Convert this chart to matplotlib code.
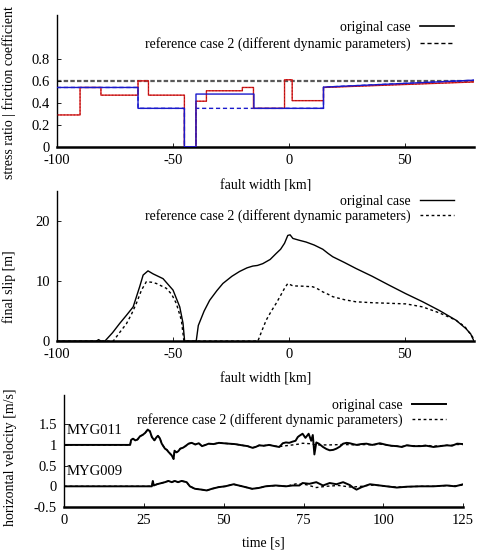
import matplotlib
matplotlib.use("Agg")
import matplotlib.pyplot as plt
import numpy as np

plt.rcParams['font.family'] = ['Liberation Serif', 'DejaVu Serif']
plt.rcParams['font.size'] = 10

# ---------------- Panel 1 data: stress ratio / friction coefficient ----------------
blue_orig_edges = [-100, -65, -45, -40, -15, 15]
blue_orig_levels = [0.54, 0.35, 0.0, 0.48, 0.35, 0.543]
blue_ref_edges = [-100, -65, -45, -40, -15, 15]
blue_ref_levels = [0.54, 0.35, 0.0, 0.35, 0.35, 0.543]
blue_tail_end = 0.606
red_edges = [-100, -90, -81, -65, -60.5, -45, -40, -35.5, -20, -15.2, -1.8, 1.5, 15]
red_levels = [0.29, 0.54, 0.47, 0.60, 0.47, 0.0, 0.415, 0.51, 0.54, 0.35, 0.61, 0.42, 0.54]
red_tail_end = 0.59
static_level = 0.6
x_end = 80

# ---------------- Panel 2 data: final slip ----------------
slip_orig_x = [-100, -83, -82, -81, -79.3, -76, -72.9, -70, -67.1, -64.3, -62.8, -60.7, -58.5, -54.2,
               -49.9, -47, -45.6, -44.9, -40, -39.9, -39, -36.5, -34.1, -31, -28.4, -24.5, -21.2, -18,
               -15.5, -13.5, -11.2, -8, -5.4, -3.5, -1.8, -0.4, 0.6, 1.8, 4.5, 7.5, 11, 14.7, 17, 19,
               24, 29, 36, 43.4, 50.5, 57.8, 65, 72.1, 76.4, 78.5, 79.3, 80]
slip_orig_y = [0, 0, 0.25, 0, 0, 1.4, 2.95, 4.3, 5.7, 9.05, 11.0, 11.7, 11.2, 10.4,
               8.5, 5.7, 3.0, 0, 0, 0, 2.6, 5.0, 6.8, 8.4, 9.6, 10.8, 11.6, 12.2,
               12.5, 12.6, 12.9, 13.6, 14.6, 15.3, 16.3, 17.6, 17.7, 17.1, 16.8, 16.5, 16.0, 15.3, 14.6, 14.05,
               13.1, 12.1, 10.8, 9.3, 7.9, 6.55, 5.1, 3.5, 2.1, 1.2, 0.5, 0]
slip_ref_x = [-100, -75.7, -73, -70, -67.8, -65.7, -63.5, -61.4, -59, -57.1, -52.8, -50.5, -48.5, -46.3,
              -45.2, -13.3, -11.5, -9.7, -7.5, -5.4, -3.5, -1.8, -0.4, 1.8, 6, 10.4, 12.5, 14.7, 17, 19,
              24, 29, 36, 43.4, 50.6, 57.8, 65, 72.1, 76, 79.3, 80]
slip_ref_y = [0, 0, 1.4, 2.9, 4.5, 6.3, 8.5, 9.9, 9.8, 9.6, 8.8, 7.8, 6.3, 3.5,
              0, 0, 1.8, 3.5, 5.0, 6.3, 7.6, 8.8, 9.6, 9.2, 9.15, 9.05, 8.7, 8.2, 7.8, 7.4,
              6.9, 6.55, 6.4, 6.3, 6.2, 5.7, 4.7, 3.5, 2.4, 0.7, 0]

# ---------------- Panel 3 data: horizontal velocity ----------------
myg011_t = [0, 20.7, 21.0, 21.6, 22.3, 23.0, 23.8, 24.6, 25.4, 26.2, 26.9, 27.5, 28.3, 28.9, 29.4, 30.0,
            30.6, 31.6, 32.2, 32.7, 33.2, 33.7, 34.3, 34.6, 35.2, 35.8, 36.4, 37.2, 38.0, 39.0, 40.0, 41.1,
            42.2, 43.2, 44.3, 45.3, 46.8, 48.5, 50.0, 51.6, 53.5, 55.8, 57.5, 59.0, 60.0, 61.1, 62.5, 64.2,
            66.0, 67.4, 68.5, 69.5, 70.5, 71.6, 72.5, 73.2, 73.7, 74.7, 75.6, 76.6, 77.4, 77.9, 78.4, 79.0,
            79.8, 81.1, 82.2, 83.2, 84.3, 85.3, 86.4, 87.4, 88.5, 89.5, 90.5, 91.6, 93.0, 94.7, 96.5, 98.9,
            101.0, 102.5, 104.2, 105.8, 107.3, 109.5, 111.5, 113.5, 115.7, 117.8, 119.9, 121.5, 123.1, 125.0]
myg011_v = [1.0, 1.0, 1.12, 1.15, 1.11, 1.13, 1.21, 1.24, 1.29, 1.37, 1.33, 1.19, 1.11, 1.18, 1.22, 1.16,
            1.03, 0.91, 0.88, 0.83, 0.79, 0.75, 0.66, 0.86, 0.82, 0.85, 0.91, 0.93, 0.97, 1.03, 1.05, 1.01,
            1.04, 0.97, 1.0, 1.03, 1.02, 1.05, 1.04, 1.03, 1.02, 0.99, 0.97, 0.93, 0.95, 0.99, 0.98, 1.0,
            0.97, 0.95, 1.04, 1.06, 1.05, 1.08, 1.10, 1.19, 1.22, 1.27, 1.17, 1.27, 1.10, 1.24, 0.77, 1.06,
            1.03, 0.95, 0.9, 0.87, 0.88, 0.91, 0.96, 1.03, 1.05, 1.04, 1.02, 1.0, 1.02, 1.03, 1.0, 1.04,
            1.0, 0.98, 0.97, 0.95, 0.99, 0.97, 0.97, 0.98, 0.95, 0.97, 0.99, 0.98, 1.03, 1.02]
myg011_ref_t = [0, 20.7, 21.0, 21.6, 22.3, 23.0, 23.8, 24.6, 25.4, 26.2, 26.9, 27.5, 28.3, 28.9, 29.4, 30.0,
                30.6, 31.6, 32.2, 32.7, 33.2, 33.7, 34.3, 34.6, 35.2, 35.8, 36.4, 37.2, 38.0, 39.0, 40.0, 41.1,
                42.2, 43.2, 44.3, 45.3, 46.8, 48.5, 50.0, 51.6, 53.5, 55.8, 57.5, 59.0, 60.0, 61.1, 62.5, 64.2,
                66.0, 67.4, 69.5, 71.6, 73.5, 74.7, 76.8, 79.0, 83.2, 87.4, 91.6, 94.7, 96.5, 98.9,
                101.0, 102.5, 104.2, 105.8, 107.3, 109.5, 111.5, 113.5, 115.7, 117.8, 119.9, 121.5, 123.1, 125.0]
myg011_ref_v = [1.0, 1.0, 1.12, 1.15, 1.11, 1.13, 1.21, 1.24, 1.29, 1.37, 1.33, 1.19, 1.11, 1.18, 1.22, 1.16,
                1.03, 0.91, 0.88, 0.83, 0.79, 0.75, 0.66, 0.86, 0.82, 0.85, 0.91, 0.93, 0.97, 1.03, 1.05, 1.01,
                1.04, 0.97, 1.0, 1.03, 1.02, 1.05, 1.04, 1.03, 1.02, 0.99, 0.97, 0.93, 0.95, 0.99, 0.98, 1.0,
                0.97, 0.96, 0.98, 1.0, 1.02, 1.04, 1.03, 1.0, 1.0, 1.01, 1.0, 1.01, 1.0, 1.02,
                1.0, 0.98, 0.97, 0.96, 0.99, 0.98, 0.98, 0.99, 0.97, 0.98, 0.99, 0.99, 1.01, 1.01]
myg009_t = [0, 27.5, 27.8, 28.1, 29.1, 30.6, 31.6, 32.7, 33.7, 34.7, 35.7, 36.8, 38.4, 39.4, 41.0, 43.1,
            44.7, 46.3, 48.4, 50.5, 53.1, 55.8, 58.9, 61.0, 63.1, 66.3, 69.5, 71.6, 73.7, 74.7, 76.8, 79.0,
            81.1, 83.2, 85.3, 87.4, 89.5, 90.5, 91.6, 93.2, 95.8, 98.9, 101.0, 104.2, 107.3, 111.5, 115.7,
            119.9, 122.5, 125.0]
myg009_v = [0, 0, 0.13, 0.02, 0.05, 0.08, 0.10, 0.13, 0.10, 0.13, 0.10, 0.13, 0.10, 0.0, -0.06, -0.08,
            -0.10, -0.06, -0.02, 0.0, 0.05, 0.0, -0.06, -0.04, 0.0, 0.02, 0.0, 0.02, 0.02, 0.08, 0.06, 0.10,
            0.02, 0.08, 0.05, 0.10, 0.03, -0.03, -0.08, -0.02, 0.05, 0.02, 0.0, -0.03, -0.01, 0.0, 0.0,
            0.02, 0.0, 0.05]
myg009_ref_t = [0, 27.5, 27.8, 28.1, 29.1, 30.6, 31.6, 32.7, 33.7, 34.7, 35.7, 36.8, 38.4, 39.4, 41.0, 43.1,
                44.7, 46.3, 48.4, 50.5, 53.1, 55.8, 58.9, 61.0, 63.1, 66.3, 69.5, 72.7, 75.8, 79.0, 82.0,
                86.0, 90.0, 93.2, 95.8, 98.9, 101.0, 104.2, 107.3, 111.5, 115.7, 119.9, 122.5, 125.0]
myg009_ref_v = [0, 0, 0.13, 0.02, 0.05, 0.08, 0.10, 0.13, 0.10, 0.13, 0.10, 0.13, 0.10, 0.0, -0.06, -0.08,
                -0.10, -0.06, -0.02, 0.0, 0.05, 0.0, -0.06, -0.04, 0.0, 0.02, 0.0, 0.06, 0.04, -0.03, 0.0,
                0.02, -0.02, 0.0, 0.03, 0.02, 0.0, -0.02, -0.01, 0.0, 0.0, 0.02, 0.01, 0.03]

legend_labels = ["original case", "reference case 2 (different dynamic parameters)"]

FS = 10


def step_path(edges, levels, end_x, end_y):
    xs, ys = [], []
    bounds = list(edges[1:]) + [None]
    for e0, e1, lv in zip(edges, bounds, levels):
        xs.append(e0)
        ys.append(lv)
        if e1 is not None:
            xs.append(e1)
            ys.append(lv)
    xs.append(end_x)
    ys.append(end_y)
    return xs, ys


def style_axes(ax):
    for s in ['top', 'right']:
        ax.spines[s].set_visible(False)
    ax.spines['bottom'].set_linewidth(1.8)
    ax.spines['left'].set_linewidth(1.0)
    ax.tick_params(direction='in', length=3, width=0.6, labelsize=FS + 0.5, pad=5)


def fmt(v, pos=None):
    return "%g" % v


def add_legend(ax, right, top, spacing):
    ax.legend(loc='upper right', frameon=False, markerfirst=False, fontsize=FS,
              handlelength=2.4, handletextpad=0.7, labelspacing=spacing,
              bbox_to_anchor=(right, top), borderaxespad=0)


fig = plt.figure(figsize=(4.78, 5.52), dpi=100)

# ---------------- Panel 1 ----------------
ax1 = fig.add_axes([0.119, 0.734, 0.873, 0.239])
style_axes(ax1)
ax1.axhline(static_level, color='0.35', lw=1.6, ls=(0, (2, 1)), zorder=1)
bx, by = step_path(blue_ref_edges, blue_ref_levels, x_end, blue_tail_end)
ax1.plot(bx, by, color='#1a1acc', lw=1.0, ls=(0, (3, 2)), zorder=2)
rx, ry = step_path(red_edges, red_levels, x_end, red_tail_end)
ax1.plot(rx, ry, color='#e02020', lw=1.0, zorder=2)
ax1.plot(rx, ry, color='#a01010', lw=0.6, ls=(0, (2, 2)), zorder=3)
bx, by = step_path(blue_orig_edges, blue_orig_levels, x_end, blue_tail_end)
ax1.plot(bx, by, color='#1a1acc', lw=1.0, zorder=3)
ax1.plot([], [], color='black', lw=1.2, label=legend_labels[0])
ax1.plot([], [], color='black', lw=1.0, ls=(0, (3, 2)), label=legend_labels[1])
ax1.set_xlim(-100, 80)
ax1.set_ylim(0, 1.2)
ax1.set_xticks([-100, -50, 0, 50])
ax1.set_yticks([0, 0.2, 0.4, 0.6, 0.8])
ax1.xaxis.set_major_formatter(plt.FuncFormatter(fmt))
ax1.yaxis.set_major_formatter(plt.FuncFormatter(fmt))
ax1.set_xlabel("fault width [km]", fontsize=FS, labelpad=9)
ax1.set_ylabel("stress ratio | friction coefficient", fontsize=FS)
ax1.yaxis.set_label_coords(-0.098, 0.41)
add_legend(ax1, 0.964, 0.995, 0.2)

# ---------------- Panel 2 ----------------
ax2 = fig.add_axes([0.119, 0.382, 0.873, 0.272])
style_axes(ax2)
ax2.plot(slip_orig_x, slip_orig_y, color='black', lw=1.0, label=legend_labels[0])
ax2.plot(slip_ref_x, slip_ref_y, color='black', lw=1.0, ls=(0, (2, 2)), label=legend_labels[1])
ax2.set_xlim(-100, 80)
ax2.set_ylim(0, 25)
ax2.set_xticks([-100, -50, 0, 50])
ax2.set_yticks([0, 10, 20])
ax2.xaxis.set_major_formatter(plt.FuncFormatter(fmt))
ax2.set_xlabel("fault width [km]", fontsize=FS, labelpad=8)
ax2.set_ylabel("final slip [m]", fontsize=FS)
ax2.yaxis.set_label_coords(-0.098, 0.36)
add_legend(ax2, 0.964, 1.01, 0.1)

# ---------------- Panel 3 ----------------
ax3 = fig.add_axes([0.134, 0.0815, 0.835, 0.2025])
style_axes(ax3)
ax3.plot(myg011_t, myg011_v, color='black', lw=1.4, label=legend_labels[0])
ax3.plot(myg011_ref_t, myg011_ref_v, color='black', lw=1.0, ls=(0, (2, 2)), label=legend_labels[1])
ax3.plot(myg009_t, myg009_v, color='black', lw=1.4)
ax3.plot(myg009_ref_t, myg009_ref_v, color='black', lw=1.0, ls=(0, (2, 2)))
ax3.text(0.8, 1.35, "MYG011", fontsize=FS + 0.5, va='center', ha='left')
ax3.text(0.8, 0.35, "MYG009", fontsize=FS + 0.5, va='center', ha='left')
ax3.set_xlim(0, 125)
ax3.set_ylim(-0.5, 2.2)
ax3.set_xticks([0, 25, 50, 75, 100, 125])
ax3.set_yticks([-0.5, 0, 0.5, 1, 1.5])
ax3.yaxis.set_major_formatter(plt.FuncFormatter(fmt))
ax3.set_xlabel("time [s]", fontsize=FS, labelpad=7)
ax3.set_ylabel("horizontal velocity [m/s]", fontsize=FS)
ax3.yaxis.set_label_coords(-0.118, 0.446)
add_legend(ax3, 0.97, 1.015, 0.05)

fig.savefig("out.png", dpi=100)
